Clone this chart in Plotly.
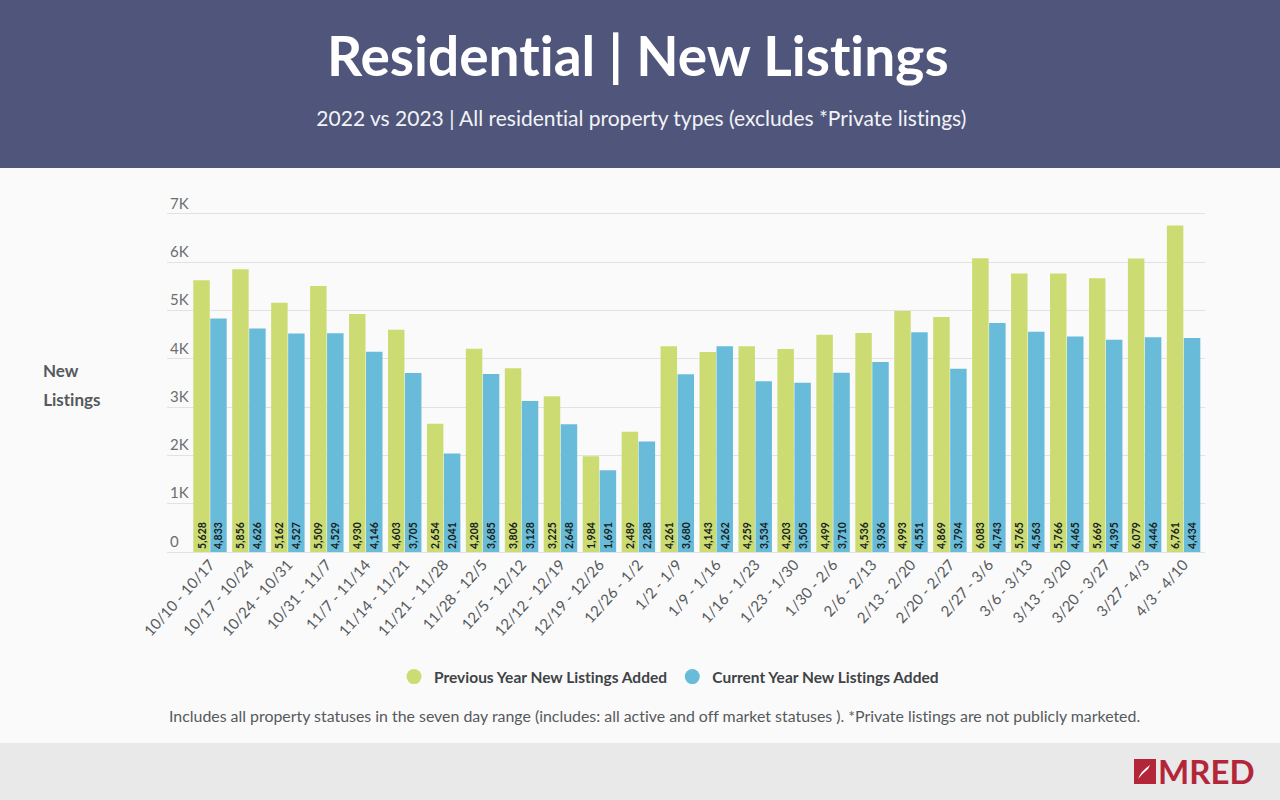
import plotly.graph_objects as go

weeks = ["10/10 - 10/17", "10/17 - 10/24", "10/24 - 10/31", "10/31 - 11/7", "11/7 - 11/14",
         "11/14 - 11/21", "11/21 - 11/28", "11/28 - 12/5", "12/5 - 12/12", "12/12 - 12/19",
         "12/19 - 12/26", "12/26 - 1/2", "1/2 - 1/9", "1/9 - 1/16", "1/16 - 1/23",
         "1/23 - 1/30", "1/30 - 2/6", "2/6 - 2/13", "2/13 - 2/20", "2/20 - 2/27",
         "2/27 - 3/6", "3/6 - 3/13", "3/13 - 3/20", "3/20 - 3/27", "3/27 - 4/3", "4/3 - 4/10"]
previous_year = [5628, 5856, 5162, 5509, 4930, 4603, 2654, 4208, 3806, 3225, 1984, 2489, 4261,
                 4143, 4259, 4203, 4499, 4536, 4993, 4869, 6083, 5765, 5766, 5669, 6079, 6761]
current_year = [4833, 4626, 4527, 4529, 4146, 3705, 2041, 3685, 3128, 2648, 1691, 2288, 3680,
                4262, 3534, 3505, 3710, 3936, 4551, 3794, 4743, 4563, 4465, 4395, 4446, 4434]
y_ticks = [0, 1000, 2000, 3000, 4000, 5000, 6000, 7000]
y_labels = ["0", "1K", "2K", "3K", "4K", "5K", "6K", "7K"]

GREEN = "#ccdb72"
BLUE = "#69bcd9"
RED = "#b3263a"
FONT = "Lato"
W, H = 1280, 800


def px(x):
    return x / W


def py(y):
    return 1 - y / H


fig = go.Figure()

for name, values, color in [("Previous Year New Listings Added", previous_year, GREEN),
                            ("Current Year New Listings Added", current_year, BLUE)]:
    fig.add_trace(go.Bar(name=name, x=weeks, y=values, marker=dict(color=color, line_width=0),
                         text=[f"{v:,}" for v in values], texttemplate="%{text}",
                         textposition="inside", insidetextanchor="start", textangle=-90,
                         constraintext="none", cliponaxis=False,
                         textfont=dict(family=FONT, size=10.5, color="#16211c", weight="bold"),
                         showlegend=False))
    # circles for the legend, the bars would only give squares
    fig.add_trace(go.Scatter(name=name, x=[None], y=[None], mode="markers",
                             marker=dict(color=color, size=15, symbol="circle")))

# white swoosh inside the logo square
logo_mark = (f"M {px(1138)} {py(779)} Q {px(1141)} {py(771)} {px(1150)} {py(765)} "
             f"L {px(1148)} {py(769)} Q {px(1143)} {py(773)} {px(1138)} {py(779)} Z")

shapes = [
    dict(type="rect", xref="paper", yref="paper", x0=0, x1=1, y0=py(168), y1=1,
         fillcolor="#50567b", line_width=0, layer="below"),
    dict(type="rect", xref="paper", yref="paper", x0=0, x1=1, y0=0, y1=py(743),
         fillcolor="#e8e9e8", line_width=0, layer="below"),
    dict(type="rect", xref="paper", yref="paper", x0=px(1134), x1=px(1156), y0=py(784), y1=py(759),
         fillcolor=RED, line_width=0, layer="below"),
    dict(type="path", xref="paper", yref="paper", path=logo_mark,
         fillcolor="white", line_width=0),
]

notes = [
    dict(text="<b>Residential | New Listings</b>", x=638, y=55, size=55, color="white"),
    dict(text="2022 vs 2023 | All residential property types (excludes *Private listings)",
         x=641, y=118, size=21, color="#f2f3f6"),
    dict(text="<b>New</b>", x=61, y=370, size=17, color="#55595c"),
    dict(text="<b>Listings</b>", x=72, y=399, size=17, color="#55595c"),
    dict(text="Includes all property statuses in the seven day range (includes: all active and off market statuses ). *Private listings are not publicly marketed.",
         x=654, y=715, size=15.9, color="#55595c"),
    dict(text="<b>MRED</b>", x=1206, y=771, size=33, color=RED),
]
annotations = [dict(text=n["text"], xref="paper", yref="paper", x=px(n["x"]), y=py(n["y"]),
                    xanchor="center", yanchor="middle", showarrow=False,
                    font=dict(family=FONT, size=n["size"], color=n["color"])) for n in notes]

fig.update_layout(
    width=W, height=H,
    margin=dict(l=0, r=0, t=0, b=0),
    paper_bgcolor="#fafafa", plot_bgcolor="#fafafa",
    barmode="group", bargap=0.128, bargroupgap=0.03,
    font=dict(family=FONT),
    shapes=shapes, annotations=annotations,
    legend=dict(orientation="h", x=px(669), y=py(677), xanchor="center", yanchor="middle",
                font=dict(family=FONT, size=15.5, color="#3f4346", weight="bold"),
                bgcolor="rgba(0,0,0,0)", traceorder="normal"),
    xaxis=dict(domain=[px(167), px(1205)], range=[-1.104, 25.55], type="category",
               categoryorder="array", categoryarray=weeks, tickangle=-48, showgrid=False,
               showline=True, linecolor="#e2e2e2", ticks="", ticklabelstandoff=-3,
               tickfont=dict(family=FONT, size=15, color="#55595c"), automargin=False),
    # range goes past 7K so the top tick and its label are kept, pixel scale stays the same
    yaxis=dict(domain=[py(552), py(190.8)], range=[0, 7480], tickvals=y_ticks, ticktext=y_labels,
               ticklabelposition="inside top", showgrid=True, gridcolor="#e2e2e2", zeroline=False,
               ticks="", tickfont=dict(family=FONT, size=15, color="#6b6e70"), automargin=False),
)

no_ligatures = ("var s=document.createElement('style');"
                "s.textContent='svg text{font-variant-ligatures:none!important;"
                "font-feature-settings:\"liga\" 0,\"clig\" 0!important}';"
                "document.head.appendChild(s);"
                "document.body.style.margin='0';document.body.style.overflow='hidden';")
fig.write_html("out.html", config={"displayModeBar": False}, post_script=no_ligatures)
